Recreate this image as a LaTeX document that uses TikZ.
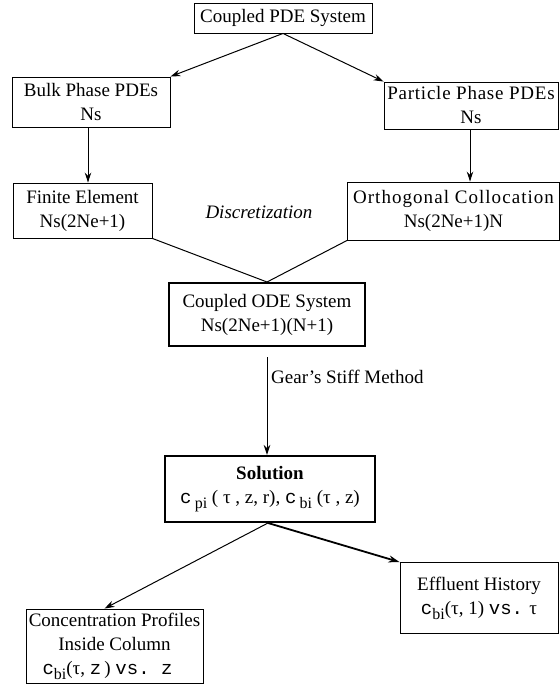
\documentclass[tikz,border=0pt]{standalone}
\usepackage{fontspec}
\setmainfont{Liberation Serif}
\newfontfamily\monof{Liberation Mono}
\usetikzlibrary{arrows.meta,calc}
\newcommand{\lowsub}[1]{\raisebox{-0.55ex}{\fontsize{16}{16}\selectfont #1}}
\begin{document}
\begin{tikzpicture}[x=1pt,y=-1pt,
  box/.style={draw, line width=0.9pt, rectangle, inner sep=0pt, align=center,
    font=\fontsize{19}{24}\selectfont},
  thickbox/.style={box, line width=2pt},
  conn/.style={line width=1pt},
  arr/.style={conn, -{Stealth[length=10pt,width=6.5pt]}},
  thickarr/.style={line width=1.8pt, -{Stealth[length=11pt,width=7pt]}},
  lbl/.style={font=\fontsize{19}{24}\selectfont, inner sep=0pt}]
\useasboundingbox (0,0) rectangle (559,698);

\node[box, minimum width=178pt, minimum height=30pt] (top) at (283,18) {Coupled PDE System};
\node[box, minimum width=158pt, minimum height=50pt] (bulk) at (91,102) {Bulk Phase PDEs\\Ns};
\node[box, minimum width=174pt, minimum height=47pt] (part) at (471,105.5)
  {{\addfontfeature{LetterSpace=4}Particle Phase PDEs}\\Ns};
\node[box, minimum width=139pt, minimum height=55pt] (fin) at (82.5,210.5) {Finite Element\\Ns(2Ne+1)};
\node[box, minimum width=212pt, minimum height=58pt] (orth) at (453.5,211)
  {{\addfontfeature{LetterSpace=5.5}Orthogonal Collocation}\\Ns(2Ne+1)N};
\node[lbl, font=\fontsize{19}{24}\selectfont\itshape] (disc) at (259,212) {Discretization};
\node[thickbox, minimum width=196pt, minimum height=63pt] (ode) at (267,314.5) {Coupled ODE System\\Ns(2Ne+1)(N+1)};
\node[thickbox, minimum width=210pt, minimum height=66pt] (sol) at (270,489)
  {\textbf{Solution}\\{\monof c}\,\lowsub{pi} ( τ , z, r), {\monof c}\,\lowsub{bi} (τ , z)};
\node[box, minimum width=177pt, minimum height=74pt] (conc) at (114.5,646)
  {Concentration Profiles\\Inside Column\\{\monof c}\lowsub{bi}(τ, {\monof z}\,) {\monof vs.~z}\hspace*{14pt}};
\node[box, minimum width=158pt, minimum height=71pt] (eff) at (479,598)
  {Effluent History\\{\monof c}\lowsub{bi}(τ, 1) {\monof vs.} τ};

\coordinate (gtop) at (267,357);
\node[lbl, anchor=west] (gear) at (271,377) {Gear's Stiff Method};

\draw[arr] (top.south) -- (bulk.north east);
\draw[arr] (top.south) -- (part.north west);
\draw[arr] ([xshift=-3pt]bulk.south) -- ([xshift=-3pt]bulk.south |- fin.north);
\draw[arr] ([xshift=-1pt]part.south) -- ([xshift=-1pt]part.south |- orth.north);
\draw[conn] (fin.south east) -- (ode.north);
\draw[conn] (orth.south west) -- (ode.north);
\draw[arr] (gtop) -- (gtop |- sol.north);
\draw[arr] ([xshift=-2pt]sol.south) -- ([xshift=-10pt]conc.north);
\draw[thickarr] ([xshift=-2pt]sol.south) -- (eff.north west);
\end{tikzpicture}
\end{document}
